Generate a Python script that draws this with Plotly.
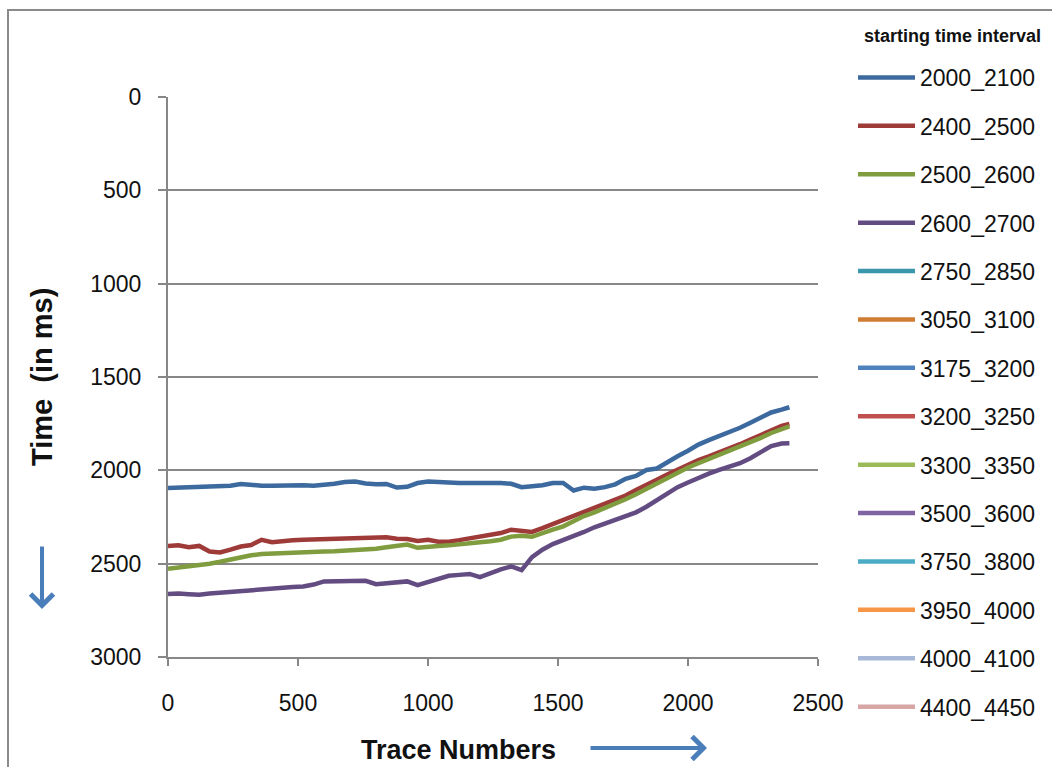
import plotly.graph_objects as go

# Trace numbers sampled along the section (shared by all picked horizons)
trace_numbers = [0, 40, 80, 120, 160, 200, 240, 280, 320, 360, 400, 440, 480, 520,
                 560, 600, 640, 680, 720, 760, 800, 840, 880, 920, 960, 1000, 1040,
                 1080, 1120, 1160, 1200, 1240, 1280, 1320, 1360, 1400, 1440, 1480,
                 1520, 1560, 1600, 1640, 1680, 1720, 1760, 1800, 1840, 1880, 1920,
                 1960, 2000, 2040, 2080, 2120, 2160, 2200, 2240, 2280, 2320, 2360, 2390]

# Picked two-way times (ms) per starting time interval
t_2000_2100 = [2095, 2093, 2090, 2088, 2085, 2087, 2083, 2073, 2080, 2082, 2083, 2082,
               2076, 2080, 2083, 2080, 2072, 2063, 2060, 2070, 2075, 2073, 2092, 2088,
               2068, 2060, 2065, 2065, 2068, 2067, 2072, 2070, 2068, 2072, 2090, 2085,
               2080, 2068, 2068, 2108, 2093, 2098, 2090, 2075, 2045, 2030, 1998, 1990,
               1955, 1925, 1895, 1862, 1838, 1818, 1793, 1772, 1745, 1718, 1690, 1675, 1662]

t_2400_2500 = [2405, 2402, 2412, 2405, 2435, 2440, 2425, 2408, 2400, 2372, 2385, 2378,
               2374, 2372, 2370, 2368, 2367, 2366, 2364, 2364, 2360, 2358, 2366, 2368,
               2378, 2372, 2383, 2382, 2374, 2366, 2358, 2350, 2336, 2318, 2325, 2330,
               2310, 2288, 2272, 2248, 2224, 2205, 2180, 2160, 2135, 2105, 2080, 2050,
               2022, 1995, 1968, 1945, 1925, 1905, 1880, 1860, 1835, 1810, 1785, 1762, 1752]

t_2500_2600 = [2528, 2522, 2515, 2508, 2500, 2490, 2478, 2465, 2455, 2448, 2445, 2443,
               2442, 2440, 2437, 2435, 2434, 2432, 2430, 2425, 2420, 2412, 2405, 2398,
               2415, 2408, 2405, 2402, 2398, 2390, 2385, 2380, 2372, 2355, 2350, 2356,
               2340, 2318, 2300, 2270, 2245, 2225, 2203, 2180, 2155, 2128, 2100, 2070,
               2040, 2010, 1985, 1962, 1940, 1918, 1895, 1875, 1850, 1826, 1800, 1778, 1765]

t_2600_2700 = [2662, 2660, 2664, 2667, 2660, 2655, 2650, 2645, 2640, 2636, 2632, 2628,
               2625, 2622, 2612, 2595, 2594, 2592, 2590, 2592, 2610, 2605, 2600, 2595,
               2615, 2598, 2580, 2565, 2560, 2555, 2572, 2548, 2530, 2515, 2535, 2465,
               2425, 2395, 2375, 2350, 2330, 2305, 2285, 2262, 2245, 2225, 2195, 2160,
               2122, 2090, 2065, 2040, 2018, 1998, 1978, 1962, 1935, 1905, 1870, 1856, 1855]

interval_labels = ["2000_2100", "2400_2500", "2500_2600", "2600_2700", "2750_2850",
                   "3050_3100", "3175_3200", "3200_3250", "3300_3350", "3500_3600",
                   "3750_3800", "3950_4000", "4000_4100", "4400_4450"]

# intervals without a picked horizon in this section carry no samples
interval_times = {
    "2000_2100": t_2000_2100,
    "2400_2500": t_2400_2500,
    "2500_2600": t_2500_2600,
    "2600_2700": t_2600_2700,
}

line_colors = ["#3C699E", "#9E3B38", "#7F9C3F", "#634C82", "#3A96AA", "#D07D34",
               "#4F81BD", "#C0504D", "#9BBB59", "#8064A2", "#4BACC6", "#F79646",
               "#A7B9D6", "#D7A6A5"]

FONT = "Liberation Sans, Arial, sans-serif"

# plot area in pixels
W, H = 1052, 767
L, R, T, B = 168, 818, 97, 657


def px(xp):
    return (xp - L) / (R - L)


def py(yp):
    return (B - yp) / (B - T)


fig = go.Figure()
for name, color in zip(interval_labels, line_colors):
    y = interval_times.get(name)
    if y is None:
        x, y = [None], [None]
    else:
        x = trace_numbers
    fig.add_trace(go.Scatter(
        x=x, y=y, mode="lines", name=name, legendgroup=name,
        line=dict(color=color, width=4.5),
    ))

axis_color = "#878787"
fig.update_layout(
    width=W, height=H,
    margin=dict(l=L, r=W - R, t=T, b=H - B, autoexpand=False),
    paper_bgcolor="white", plot_bgcolor="white",
    font=dict(family=FONT, size=23, color="#111111"),
    showlegend=True,
    legend=dict(
        xref="container", yref="container", x=853 / W, y=1 - 56 / H,
        xanchor="left", yanchor="top", maxheight=720,
        font=dict(size=23, family=FONT),
        itemwidth=57, tracegroupgap=15.5,
        bgcolor="rgba(0,0,0,0)",
    ),
    xaxis=dict(
        range=[0, 2500], tickvals=[0, 500, 1000, 1500, 2000, 2500],
        showgrid=False, zeroline=False, automargin=False,
        showline=True, linecolor=axis_color, linewidth=2,
        ticks="outside", ticklen=7, tickwidth=2, tickcolor=axis_color,
        ticklabelstandoff=17,
    ),
    yaxis=dict(
        range=[3000, 0], tickvals=[0, 500, 1000, 1500, 2000, 2500, 3000],
        showgrid=True, gridcolor=axis_color, gridwidth=1.5, zeroline=False,
        automargin=False,
        showline=True, linecolor=axis_color, linewidth=2,
        ticks="outside", ticklen=8, tickwidth=2, tickcolor=axis_color,
        ticklabelstandoff=12,
    ),
    shapes=[
        dict(type="rect", xref="paper", yref="paper",
             x0=px(8), x1=px(1100), y0=py(10), y1=py(820),
             line=dict(color="#8a8a8a", width=2), layer="below"),
    ],
    annotations=[
        dict(text="<b>starting time interval</b>", xref="paper", yref="paper",
             x=px(952), y=py(36), xanchor="center", yanchor="middle",
             showarrow=False, font=dict(size=18, family=FONT)),
        dict(text="<b>Time  (in ms)</b>", textangle=-90, xref="paper", yref="paper",
             x=px(42), y=py(377), xanchor="center", yanchor="middle",
             showarrow=False, font=dict(size=29, family=FONT)),
        dict(text="<b>Trace Numbers</b>", xref="paper", yref="paper",
             x=px(458), y=py(750), xanchor="center", yanchor="middle",
             showarrow=False, font=dict(size=27, family=FONT)),
        dict(text="", xref="paper", yref="paper", x=px(42), y=py(609),
             ax=0, ay=-64, showarrow=True, arrowhead=4, arrowsize=1.1,
             arrowwidth=4, arrowcolor="#4A7EBB"),
        dict(text="", xref="paper", yref="paper", x=px(707), y=py(748),
             ax=-118, ay=0, showarrow=True, arrowhead=4, arrowsize=1.1,
             arrowwidth=4, arrowcolor="#4A7EBB"),
    ],
)

fig.write_html("out.html")
